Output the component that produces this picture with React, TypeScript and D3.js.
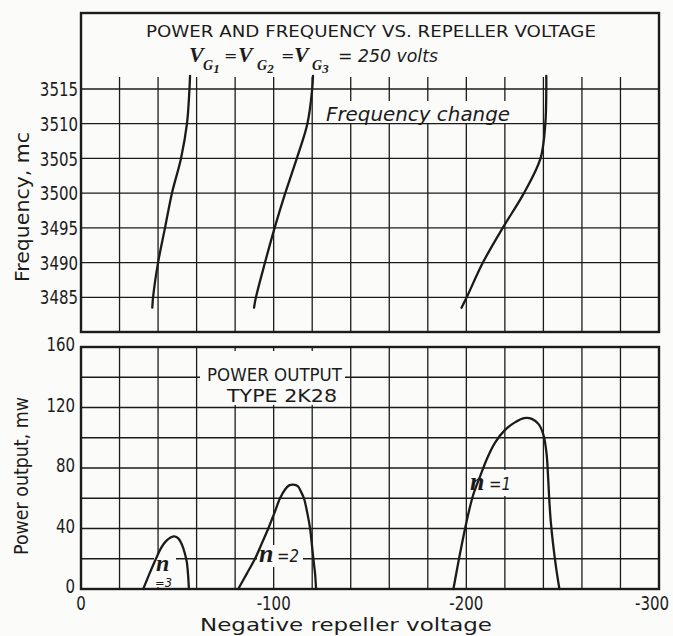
import React from "react";
import * as d3 from "d3";

const W = 673;
const H = 636;

// ---- tick / grid values ----
const voltTicks = [0, -100, -200, -300];
const voltGrid = [-20, -40, -60, -80, -100, -120, -140, -160, -180, -200, -220, -240, -260, -280];
const freqTicks = [3485, 3490, 3495, 3500, 3505, 3510, 3515];
const powerTicks = [0, 40, 80, 120, 160];
const powerGrid = [20, 40, 60, 80, 100, 120, 140];

// ---- frequency curves: [repeller voltage, frequency mc] ----
const freqN3: [number, number][] = [
  [-37, 3483.5], [-37.4, 3485], [-40, 3490], [-43.6, 3495], [-47.2, 3500],
  [-51.9, 3505], [-55, 3510], [-56.3, 3515], [-56.6, 3516.9],
];
const freqN2: [number, number][] = [
  [-89.8, 3483.5], [-90.8, 3485], [-95.5, 3490], [-100.5, 3495], [-106, 3500],
  [-112, 3505], [-117.5, 3510], [-120, 3515], [-120.4, 3516.9],
];
const freqN1: [number, number][] = [
  [-197.5, 3483.5], [-200.2, 3485], [-208.6, 3490], [-218.9, 3495], [-229.9, 3500],
  [-238.5, 3505], [-241, 3510], [-241.5, 3515], [-241.5, 3516.9],
];

// ---- power curves: [repeller voltage, power mw] ----
const powerN3: [number, number][] = [
  [-32.3, 0], [-35.5, 10], [-38.9, 20], [-41.5, 27], [-44, 31.5], [-46.5, 34],
  [-48.5, 34.8], [-50.5, 33.5], [-52.5, 29], [-54, 23], [-54.9, 18], [-55.6, 9], [-56, 0],
];
const powerN2: [number, number][] = [
  [-81.6, 0], [-86, 10], [-90.3, 20], [-93.8, 30], [-97.2, 40], [-100.3, 50],
  [-103.3, 60], [-106, 66], [-108, 68.5], [-110.2, 69], [-112.5, 68], [-114.3, 64],
  [-115.7, 60], [-117.5, 50], [-118.9, 40], [-120.6, 20], [-121.5, 10], [-122, 0],
];
const powerN1: [number, number][] = [
  [-193.3, 0], [-196.5, 22], [-200.2, 45], [-203.5, 62], [-207, 74], [-211, 87],
  [-215, 97], [-220, 105], [-225, 110], [-230, 113], [-234, 112.5], [-237.5, 109],
  [-240, 102], [-241.6, 90], [-242.4, 75], [-243, 60], [-243.8, 45], [-245, 30],
  [-246.5, 15], [-248.3, 0],
];

const SANS = "'DejaVu Sans', 'Liberation Sans', sans-serif";
const SERIF = "'Liberation Serif', 'DejaVu Serif', serif";
const INK = "#1b1b1b";
const BG = "#fbfbfa";
const NARROW = 0.75; // horizontal squeeze of the lettering-style tick labels

export default function App() {
  const xS = d3.scaleLinear().domain([0, -300]).range([81, 659]);
  const fY = d3.scaleLinear().domain([3480, 3515]).range([332, 89]);
  const pY = d3.scaleLinear().domain([0, 160]).range([589, 347]);

  const topFrame = { top: 13, bottom: fY(3480), gridTop: 77 };
  const botFrame = { top: pY(160), bottom: pY(0) };
  const left = xS(0);
  const right = xS(-300);

  const fLine = d3
    .line<[number, number]>()
    .x((d) => xS(d[0]))
    .y((d) => fY(d[1]))
    .curve(d3.curveCatmullRom.alpha(0.5));
  const pLine = d3
    .line<[number, number]>()
    .x((d) => xS(d[0]))
    .y((d) => pY(d[1]))
    .curve(d3.curveCatmullRom.alpha(0.5));

  const gridStroke = { stroke: INK, strokeWidth: 1.3 };
  const curveStyle = {
    fill: "none",
    stroke: INK,
    strokeWidth: 2.3,
    strokeLinejoin: "round" as const,
    strokeLinecap: "round" as const,
  };

  const voltLabel = (v: number) => (v === 0 ? "0" : "-" + Math.abs(v));
  const approxW = (s: string) =>
    s.split("").reduce((a, ch) => a + (ch === "-" ? 7.2 : 12.7), 0) * NARROW;

  return (
    <svg
      width={W}
      height={H}
      viewBox={`0 0 ${W} ${H}`}
      style={{ position: "absolute", left: 0, top: 0, background: BG }}
    >
      <rect x={0} y={0} width={W} height={H} fill={BG} />

      {/* ---------- TOP PANEL GRID ---------- */}
      {voltGrid.map((v) => (
        <line key={"tv" + v} x1={xS(v)} x2={xS(v)} y1={topFrame.gridTop} y2={topFrame.bottom} {...gridStroke} />
      ))}
      {freqTicks.map((f) => (
        <line key={"th" + f} x1={left} x2={right} y1={fY(f)} y2={fY(f)} {...gridStroke} />
      ))}
      <rect x={322} y={101} width={193} height={22} fill={BG} />

      {/* ---------- BOTTOM PANEL GRID ---------- */}
      {voltGrid.map((v) => (
        <line key={"bv" + v} x1={xS(v)} x2={xS(v)} y1={botFrame.top} y2={botFrame.bottom} {...gridStroke} />
      ))}
      {powerGrid.map((p) => (
        <line key={"bh" + p} x1={left} x2={right} y1={pY(p)} y2={pY(p)} {...gridStroke} />
      ))}
      <rect x={200} y={351} width={145} height={54} fill={BG} />
      <rect x={257} y={545} width={46} height={22} fill={BG} />
      <rect x={468} y={470} width={48} height={26} fill={BG} />
      <rect x={154} y={555} width={22} height={32} fill={BG} />

      {/* ---------- CURVES ---------- */}
      <path d={fLine(freqN3) ?? ""} {...curveStyle} />
      <path d={fLine(freqN2) ?? ""} {...curveStyle} />
      <path d={fLine(freqN1) ?? ""} {...curveStyle} />
      <path d={pLine(powerN3) ?? ""} {...curveStyle} />
      <path d={pLine(powerN2) ?? ""} {...curveStyle} />
      <path d={pLine(powerN1) ?? ""} {...curveStyle} />

      {/* ---------- FRAMES ---------- */}
      <rect x={left} y={topFrame.top} width={right - left} height={topFrame.bottom - topFrame.top} fill="none" stroke={INK} strokeWidth={2.4} />
      <rect x={left} y={botFrame.top} width={right - left} height={botFrame.bottom - botFrame.top} fill="none" stroke={INK} strokeWidth={2.4} />

      {/* ---------- TICK LABELS ---------- */}
      <g fontFamily={SANS} fontSize={20} fill={INK}>
        {freqTicks.map((f) => (
          <text key={"fl" + f} transform={`translate(${left - 3},${fY(f)}) scale(${NARROW},1)`}
            dy="0.36em" textAnchor="end">
            {f}
          </text>
        ))}
        {powerTicks.map((p) => (
          <text key={"pl" + p} transform={`translate(${left - 6},${pY(p) - 3}) scale(${NARROW},1)`}
            dy="0.36em" textAnchor="end">
            {p}
          </text>
        ))}
        {voltTicks.map((v) => {
          const s = voltLabel(v);
          const w = approxW(s);
          const overflow = xS(v) + w / 2 > W - 4;
          const x = overflow ? W - 4 : xS(v);
          return (
            <text key={"vl" + v} transform={`translate(${x},610) scale(${NARROW},1)`}
              textAnchor={overflow ? "end" : "middle"}>
              {s}
            </text>
          );
        })}
      </g>

      {/* ---------- AXIS TITLES ---------- */}
      <text transform="translate(29,207) rotate(-90)" textAnchor="middle" fontFamily={SANS}
        fontSize={19} fill={INK} textLength={150} lengthAdjust="spacingAndGlyphs">
        Frequency, mc
      </text>
      <text transform="translate(28,476) rotate(-90)" textAnchor="middle" fontFamily={SANS}
        fontSize={19} fill={INK} textLength={158} lengthAdjust="spacingAndGlyphs">
        Power output, mw
      </text>
      <text x={346} y={631} textAnchor="middle" fontFamily={SANS} fontSize={18.5} fill={INK}
        textLength={292} lengthAdjust="spacingAndGlyphs">
        Negative repeller voltage
      </text>

      {/* ---------- TITLES ---------- */}
      <text x={146} y={37} fontFamily={SANS} fontSize={16.5} fill={INK} textLength={450} lengthAdjust="spacingAndGlyphs">
        POWER AND FREQUENCY VS. REPELLER VOLTAGE
      </text>

      <g fill={INK}>
        <text x={189} y={62} fontFamily={SERIF} fontWeight="bold" fontStyle="italic" fontSize={22}>V</text>
        <text x={203} y={70} fontFamily={SERIF} fontWeight="bold" fontStyle="italic" fontSize={14}>
          G<tspan dy={3} fontSize={13}>1</tspan>
        </text>
        <text x={224} y={61} fontFamily={SANS} fontStyle="italic" fontSize={16}>=</text>
        <text x={238} y={62} fontFamily={SERIF} fontWeight="bold" fontStyle="italic" fontSize={22}>V</text>
        <text x={257} y={70} fontFamily={SERIF} fontWeight="bold" fontStyle="italic" fontSize={14}>
          G<tspan dy={3} fontSize={13}>2</tspan>
        </text>
        <text x={281} y={61} fontFamily={SANS} fontStyle="italic" fontSize={16}>=</text>
        <text x={294} y={62} fontFamily={SERIF} fontWeight="bold" fontStyle="italic" fontSize={22}>V</text>
        <text x={312} y={70} fontFamily={SERIF} fontWeight="bold" fontStyle="italic" fontSize={14}>
          G<tspan dy={3} fontSize={13}>3</tspan>
        </text>
        <text x={338} y={62} fontFamily={SANS} fontStyle="italic" fontSize={17.5} textLength={100} lengthAdjust="spacingAndGlyphs">
          = 250 volts
        </text>
      </g>

      <text x={326} y={121} fontFamily={SANS} fontStyle="italic" fontSize={19.5} fill={INK} textLength={184} lengthAdjust="spacingAndGlyphs">
        Frequency change
      </text>

      <text x={207} y={381} fontFamily={SANS} fontSize={18} fill={INK} textLength={135} lengthAdjust="spacingAndGlyphs">
        POWER OUTPUT
      </text>
      <text x={227} y={402} fontFamily={SANS} fontSize={18} fill={INK} textLength={110} lengthAdjust="spacingAndGlyphs">
        TYPE 2K28
      </text>

      {/* mode labels */}
      <g fill={INK}>
        <text x={259} y={562} fontFamily={SERIF} fontWeight="bold" fontStyle="italic" fontSize={26}>n</text>
        <text x={277} y={562} fontFamily={SANS} fontStyle="italic" fontSize={18} textLength={22} lengthAdjust="spacingAndGlyphs">=2</text>

        <text x={470} y={490} fontFamily={SERIF} fontWeight="bold" fontStyle="italic" fontSize={26}>n</text>
        <text x={489} y={490} fontFamily={SANS} fontStyle="italic" fontSize={18} textLength={22} lengthAdjust="spacingAndGlyphs">=1</text>

        <text x={156} y={571} fontFamily={SERIF} fontWeight="bold" fontStyle="italic" fontSize={24}>n</text>
        <text x={155} y={587} fontFamily={SANS} fontStyle="italic" fontSize={12} textLength={17} lengthAdjust="spacingAndGlyphs">=3</text>
      </g>
    </svg>
  );
}
